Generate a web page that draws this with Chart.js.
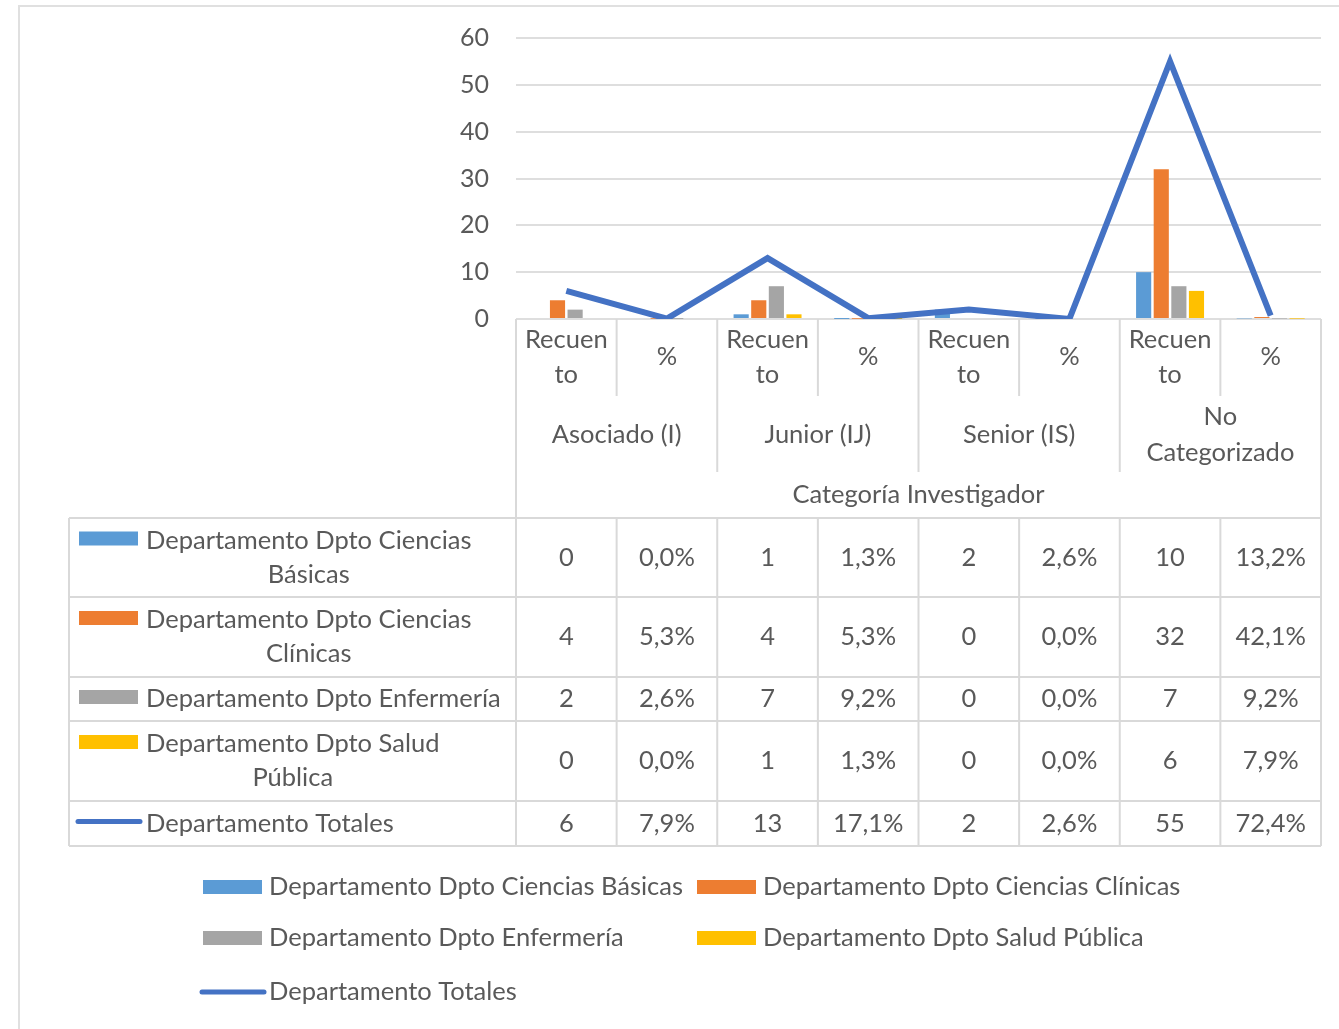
<!DOCTYPE html>
<html>
<head>
<meta charset="utf-8">
<script src="https://cdn.jsdelivr.net/npm/chart.js@4"></script>
<style>
  html, body { margin: 0; padding: 0; background: #fff; }
  #chart { display: block; }
</style>
</head>
<body>
<canvas id="chart" width="1339" height="1029"></canvas>
<script>
// category levels
const groups = [["Asociado (I)"], ["Junior (IJ)"], ["Senior (IS)"], ["No", "Categorizado"]];
const measures = [["Recuen", "to"], ["%"]];
const axisTitle = "Categoría Investigador";
const categories = ["Recuento", "%", "Recuento", "%", "Recuento", "%", "Recuento", "%"];

// series (counts and fractions, alternating per category)
const basicas   = [0, 0.0,   1, 0.013, 2, 0.026, 10, 0.132];
const clinicas  = [4, 0.053, 4, 0.053, 0, 0.0,   32, 0.421];
const enfermeria = [2, 0.026, 7, 0.092, 0, 0.0,   7, 0.092];
const salud     = [0, 0.0,   1, 0.013, 0, 0.0,   6, 0.079];
const totales   = [6, 0.079, 13, 0.171, 2, 0.026, 55, 0.724];

const seriesNames = [
  "Departamento Dpto Ciencias Básicas",
  "Departamento Dpto Ciencias Clínicas",
  "Departamento Dpto Enfermería",
  "Departamento Dpto Salud Pública",
  "Departamento Totales"
];

const yTicks = [0, 10, 20, 30, 40, 50, 60];

const FONT = "25.5px Lato";
const TEXT = "#595959";
const LINE = "#d9d9d9";

function fmt(v, i) {
  if (i % 2 === 0) return String(v);
  return (v * 100).toFixed(1).replace(".", ",") + "%";
}

function wrap(ctx, text, maxW) {
  const words = text.split(" ");
  const lines = [];
  let cur = "";
  words.forEach(w => {
    const test = cur ? cur + " " + w : w;
    if (ctx.measureText(test).width > maxW && cur) {
      lines.push(cur);
      cur = w;
    } else {
      cur = test;
    }
  });
  if (cur) lines.push(cur);
  return lines;
}

const tablePlugin = {
  id: "dataTable",
  beforeDraw(chart) {
    const ctx = chart.ctx;
    ctx.save();
    ctx.fillStyle = "#fff";
    ctx.fillRect(0, 0, chart.width, chart.height);
    ctx.strokeStyle = "#e0e0e0";
    ctx.lineWidth = 2;
    ctx.strokeRect(19, 6, 1400, 1100);
    ctx.restore();
  },
  afterDraw(chart) {
    const ctx = chart.ctx;
    const xs = chart.scales.x;
    const area = chart.chartArea;
    const colW = xs.getPixelForValue(1) - xs.getPixelForValue(0);
    const x0 = xs.getPixelForValue(0) - colW / 2;
    const edges = [];
    for (let i = 0; i <= categories.length; i++) edges.push(x0 + i * colW);
    const right = edges[edges.length - 1];
    const tableLeft = 69;
    const subBottom = 396, groupBottom = 472;
    const rowEdges = [518, 597, 677, 721, 801, 846];

    ctx.save();
    ctx.strokeStyle = LINE;
    ctx.lineWidth = 2;
    const seg = (xa, ya, xb, yb) => { ctx.beginPath(); ctx.moveTo(xa, ya); ctx.lineTo(xb, yb); ctx.stroke(); };

    // category header grid
    seg(edges[0], area.bottom, edges[0], rowEdges[0]);
    seg(right, area.bottom, right, rowEdges[rowEdges.length - 1]);
    for (let i = 1; i < categories.length; i++) {
      seg(edges[i], area.bottom, edges[i], i % 2 === 0 ? groupBottom : subBottom);
    }
    // data table grid
    rowEdges.forEach(y => seg(tableLeft, y, right, y));
    seg(tableLeft, rowEdges[0], tableLeft, rowEdges[rowEdges.length - 1]);
    edges.forEach(x => seg(x, rowEdges[0], x, rowEdges[rowEdges.length - 1]));

    ctx.fillStyle = TEXT;
    ctx.font = FONT;
    ctx.textAlign = "center";
    ctx.textBaseline = "middle";

    // sub labels
    for (let i = 0; i < categories.length; i++) {
      const cx = edges[i] + colW / 2;
      const lines = measures[i % 2];
      if (lines.length === 2) {
        ctx.fillText(lines[0], cx, 340);
        ctx.fillText(lines[1], cx, 375);
      } else {
        ctx.fillText(lines[0], cx, 357);
      }
    }
    // group labels
    groups.forEach((g, j) => {
      const cx = edges[j * 2] + colW;
      if (g.length === 2) {
        ctx.fillText(g[0], cx, 417);
        ctx.fillText(g[1], cx, 453);
      } else {
        ctx.fillText(g[0], cx, 435);
      }
    });
    ctx.fillText(axisTitle, (edges[0] + right) / 2, 495);

    // values
    const datasets = chart.data.datasets;
    const order = [1, 2, 3, 4, 0]; // table rows: bars first, then total line
    order.forEach((di, r) => {
      const ds = datasets[di];
      const cy = (rowEdges[r] + rowEdges[r + 1]) / 2;
      ds.data.forEach((v, i) => {
        ctx.fillText(fmt(v, i), edges[i] + colW / 2, cy);
      });
      // series label with key
      const lines = wrap(ctx, ds.label, 368);
      const lineH = 34;
      const y1 = lines.length > 1 ? cy - lineH / 2 : cy;
      const blockW = Math.max(...lines.map(l => ctx.measureText(l).width));
      lines.forEach((l, k) => {
        ctx.fillText(l, 146 + blockW / 2, y1 + k * lineH);
      });
      drawKey(ctx, ds, 79, y1 - 2);
    });

    // bottom legend
    ctx.textAlign = "left";
    const legendPos = [[203, 887], [697, 887], [203, 938], [697, 938], [203, 992]];
    order.forEach((di, k) => {
      const ds = datasets[di];
      const [lx, ly] = legendPos[k];
      drawKey(ctx, ds, lx, ly);
      ctx.fillStyle = TEXT;
      ctx.fillText(ds.label, lx + 66, ly);
    });
    ctx.restore();
  }
};

function drawKey(ctx, ds, x, y) {
  ctx.save();
  if (ds.type === "line") {
    ctx.strokeStyle = ds.borderColor;
    ctx.lineWidth = 5;
    ctx.lineCap = "round";
    ctx.beginPath();
    ctx.moveTo(x - 1, y);
    ctx.lineTo(x + 61, y);
    ctx.stroke();
  } else {
    ctx.fillStyle = ds.backgroundColor;
    ctx.fillRect(x, y - 7, 59, 14);
  }
  ctx.restore();
}

new Chart(document.getElementById("chart").getContext("2d"), {
  type: "bar",
  data: {
    labels: categories,
    datasets: [
      { type: "line", label: seriesNames[4], data: totales, borderColor: "#4472C4", borderWidth: 6,
        pointRadius: 0, tension: 0, order: 0, borderJoinStyle: "miter" },
      { label: seriesNames[0], data: basicas, backgroundColor: "#5B9BD5", order: 1 },
      { label: seriesNames[1], data: clinicas, backgroundColor: "#ED7D31", order: 1 },
      { label: seriesNames[2], data: enfermeria, backgroundColor: "#A5A5A5", order: 1 },
      { label: seriesNames[3], data: salud, backgroundColor: "#FFC000", order: 1 }
    ]
  },
  options: {
    responsive: false,
    devicePixelRatio: 1,
    animation: false,
    // top of the plot is set by the tick label height + tick padding
    layout: { padding: { top: 0, right: 18, bottom: 710, left: 0 } },
    datasets: { bar: { categoryPercentage: 0.7, barPercentage: 0.86 } },
    plugins: { legend: { display: false }, tooltip: { enabled: false } },
    scales: {
      x: { display: false, offset: true },
      y: {
        min: 0, max: 60,
        afterFit: s => { s.width = 516; },
        afterBuildTicks: s => { s.ticks = yTicks.map(v => ({ value: v })); },
        border: { display: false },
        grid: { color: "#dedede", lineWidth: 2, drawTicks: false },
        ticks: { color: TEXT, font: { family: "Lato", size: 25, lineHeight: 0.88 }, padding: 27 }
      }
    }
  },
  plugins: [tablePlugin]
});
</script>
</body>
</html>
